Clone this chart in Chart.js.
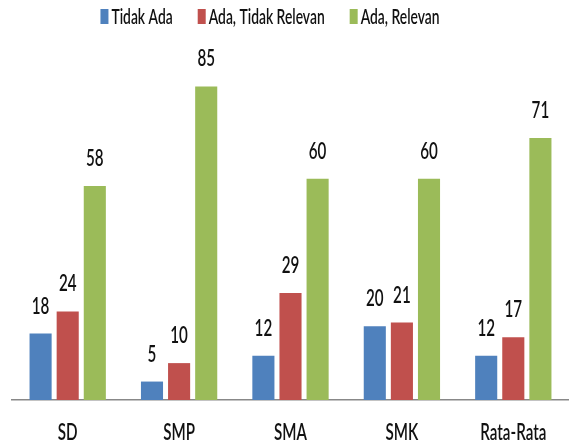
<!DOCTYPE html>
<html>
<head>
<meta charset="utf-8">
<script src="https://cdn.jsdelivr.net/npm/chart.js@4"></script>
<style>
    html, body { margin: 0; padding: 0; background: #fff; }
    #wrap { width: 569px; height: 448px; }
</style>
</head>
<body>
<div id="wrap"><canvas id="chart"></canvas></div>
<script>
const categories = ['SD', 'SMP', 'SMA', 'SMK', 'Rata-Rata'];
const tidakAda = [18, 5, 12, 20, 12];
const adaTidakRelevan = [24, 10, 29, 21, 17];
const adaRelevan = [58, 85, 60, 60, 71];
const seriesNames = ['Tidak Ada', 'Ada, Tidak Relevan', 'Ada, Relevan'];
const seriesColors = ['#4F81BD', '#C0504D', '#9BBB59'];

const fontFamily = "Lato, sans-serif";
const fontWeight = '600';
const squeeze = 0.66;   // teks di gambar asli sempit dan tinggi

function narrowWidth(ctx, text, size) {
    ctx.font = fontWeight + ' ' + size + 'px ' + fontFamily;
    return ctx.measureText(text).width * squeeze;
}

function narrowText(ctx, text, x, y, size, align) {
    ctx.save();
    ctx.font = fontWeight + ' ' + size + 'px ' + fontFamily;
    ctx.fillStyle = '#111';
    ctx.textAlign = align || 'center';
    ctx.textBaseline = 'alphabetic';
    ctx.translate(x, y);
    ctx.scale(squeeze, 1);
    ctx.fillText(text, 0, 0);
    ctx.restore();
}

// angka di atas batang, label sumbu x, dan legend
const narrowLabels = {
    id: 'narrowLabels',
    afterDatasetsDraw(chart) {
        const ctx = chart.ctx;
        chart.data.datasets.forEach((ds, i) => {
            chart.getDatasetMeta(i).data.forEach((bar, j) => {
                narrowText(ctx, String(ds.data[j]), bar.x, bar.y - 20, 23);
            });
        });

        const xScale = chart.scales.x;
        chart.data.labels.forEach((lab, i) => {
            narrowText(ctx, lab, xScale.getPixelForTick(i), 440, 23);
        });

        // legend manual
        const boxW = 8, gapBox = 3, gapItem = 25, size = 21;
        let total = 0;
        const widths = chart.data.datasets.map(ds => narrowWidth(ctx, ds.label, size));
        widths.forEach(w => { total += boxW + gapBox + w; });
        total += gapItem * (widths.length - 1);
        let x = 270 - total / 2;
        chart.data.datasets.forEach((ds, i) => {
            ctx.fillStyle = ds.backgroundColor;
            ctx.fillRect(x, 9, boxW, 15);
            x += boxW + gapBox;
            narrowText(ctx, ds.label, x, 24, size, 'left');
            x += widths[i] + gapItem;
        });
    }
};

new Chart(document.getElementById('chart').getContext('2d'), {
    type: 'bar',
    data: {
        labels: categories,
        datasets: [
            { label: seriesNames[0], data: tidakAda, backgroundColor: seriesColors[0] },
            { label: seriesNames[1], data: adaTidakRelevan, backgroundColor: seriesColors[1] },
            { label: seriesNames[2], data: adaRelevan, backgroundColor: seriesColors[2] }
        ]
    },
    options: {
        responsive: true,
        maintainAspectRatio: false,
        animation: false,
        layout: { padding: { left: 12, right: 0, top: 68, bottom: 0 } },
        datasets: { bar: { categoryPercentage: 0.73, barPercentage: 0.815 } },
        plugins: {
            legend: { display: false },
            tooltip: { enabled: false }
        },
        scales: {
            x: {
                grid: { display: false, drawTicks: false },
                border: { color: '#888', width: 1.5 },
                ticks: { display: false },
                afterFit(scale) { scale.height = 48; }
            },
            y: {
                display: false,
                min: 0,
                max: 90
            }
        }
    },
    plugins: [narrowLabels]
});
</script>
</body>
</html>
